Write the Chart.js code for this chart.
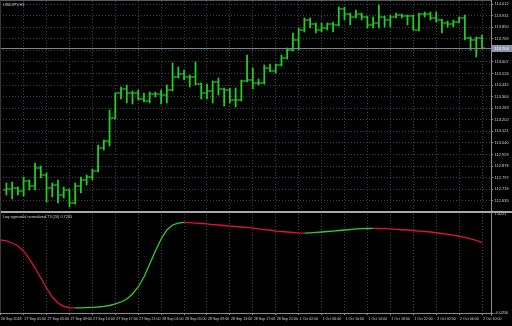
<!DOCTYPE html>
<html>
<head>
<meta charset="utf-8">
<script src="https://cdn.jsdelivr.net/npm/chart.js@4.4.0/dist/chart.umd.min.js"></script>
<style>
    html, body { margin: 0; padding: 0; background: #000; }
    #wrap { position: relative; width: 512px; height: 326px; background: #000; overflow: hidden; }
    #wrap canvas { position: absolute; left: 0; }
    #mainChart { top: 0; }
    #indChart { top: 212px; }
</style>
</head>
<body>
<div id="wrap">
    <canvas id="mainChart" width="512" height="212"></canvas>
    <canvas id="indChart" width="512" height="114"></canvas>
</div>
<script>
// USDJPY H1 bars, 26 Sep 22:00 .. 2 Oct 10:00 (bar index 0..83)
const opens = [
    112.710,112.717,112.724,112.703,112.773,112.738,112.864,112.815,112.724,112.745,
    112.675,112.710,112.619,112.738,112.780,112.801,112.843,113.004,113.053,113.214,
    113.389,113.417,113.389,113.389,113.347,113.333,113.382,113.382,113.375,113.410,
    113.501,113.522,113.501,113.501,113.452,113.389,113.403,113.466,113.417,113.410,
    113.340,113.340,113.473,113.480,113.459,113.459,113.564,113.543,113.585,113.634,
    113.690,113.760,113.830,113.900,113.872,113.830,113.844,113.872,113.865,113.977,
    113.942,113.921,113.942,113.921,113.865,113.879,113.921,113.900,113.921,113.935,
    113.928,113.928,113.830,113.942,113.942,113.914,113.900,113.879,113.872,113.886,
    113.914,113.774,113.760,113.774
];
const highs = [
    112.759,112.766,112.731,112.801,112.780,112.899,112.878,112.829,112.759,112.780,
    112.731,112.717,112.759,112.801,112.815,112.857,113.025,113.060,113.270,113.389,
    113.431,113.445,113.403,113.410,113.389,113.396,113.396,113.410,113.445,113.599,
    113.571,113.550,113.515,113.606,113.459,113.452,113.473,113.494,113.424,113.424,
    113.424,113.480,113.655,113.564,113.487,113.585,113.592,113.592,113.655,113.704,
    113.809,113.844,113.914,113.914,113.879,113.879,113.879,113.886,113.991,113.991,
    113.949,113.970,113.949,113.928,113.921,114.005,113.928,113.935,113.949,113.942,
    113.935,113.935,113.949,113.956,113.956,113.956,113.907,113.893,113.900,113.921,
    113.935,113.781,113.781,113.795
];
const lows = [
    112.675,112.647,112.675,112.668,112.710,112.710,112.794,112.626,112.661,112.619,
    112.654,112.591,112.612,112.689,112.745,112.780,112.836,112.990,113.018,113.207,
    113.347,113.319,113.312,113.340,113.326,113.319,113.361,113.312,113.319,113.403,
    113.494,113.480,113.431,113.445,113.347,113.347,113.319,113.375,113.298,113.319,
    113.291,113.333,113.466,113.417,113.445,113.452,113.536,113.529,113.578,113.627,
    113.683,113.690,113.816,113.844,113.809,113.816,113.830,113.816,113.858,113.900,
    113.865,113.914,113.900,113.844,113.844,113.844,113.851,113.851,113.914,113.914,
    113.865,113.830,113.823,113.921,113.900,113.886,113.809,113.851,113.851,113.879,
    113.760,113.690,113.641,113.697
];
const closes = [
    112.717,112.724,112.703,112.773,112.738,112.864,112.815,112.724,112.745,112.675,
    112.710,112.619,112.738,112.780,112.801,112.843,113.004,113.053,113.214,113.389,
    113.417,113.389,113.389,113.347,113.333,113.382,113.382,113.375,113.410,113.501,
    113.522,113.501,113.501,113.452,113.389,113.403,113.466,113.417,113.410,113.340,
    113.340,113.473,113.480,113.459,113.459,113.564,113.543,113.585,113.634,113.690,
    113.760,113.830,113.900,113.872,113.830,113.844,113.872,113.865,113.977,113.942,
    113.921,113.942,113.921,113.865,113.879,113.921,113.900,113.921,113.935,113.928,
    113.928,113.830,113.942,113.942,113.914,113.900,113.879,113.872,113.886,113.914,
    113.774,113.760,113.774,113.704
];
const bid = 113.704;

// indicator, first value belongs to the bar before index 0
const sig = [
    0.748,
    0.738,0.716,0.685,0.632,0.547,0.451,0.345,0.239,0.144,0.080,
    0.045,0.030,0.028,0.029,0.031,0.034,0.038,0.044,0.054,0.070,
    0.091,0.123,0.176,0.250,0.356,0.494,0.632,0.759,0.854,0.907,
    0.928,0.934,0.933,0.928,0.923,0.918,0.912,0.907,0.902,0.896,
    0.891,0.886,0.881,0.875,0.865,0.859,0.854,0.843,0.838,0.833,
    0.828,0.822,0.821,0.824,0.828,0.833,0.838,0.843,0.849,0.854,
    0.859,0.865,0.868,0.870,0.871,0.870,0.868,0.865,0.861,0.857,
    0.854,0.849,0.843,0.838,0.833,0.825,0.817,0.808,0.799,0.788,
    0.775,0.759,0.743,0.7205
];

const priceTicks = [114.012,113.931,113.850,113.769,113.688,113.607,113.526,113.445,113.364,
    113.283,113.202,113.121,113.040,112.959,112.878,112.797,112.716,112.635];
const timeTickIdx = [3,7,11,15,19,23,27,31,35,39,43,47,51,55,59,63,67,71,75,79,83];
const timeTickText = ['27 Sep 01:00','27 Sep 05:00','27 Sep 09:00','27 Sep 13:00','27 Sep 17:00',
    '27 Sep 21:00','28 Sep 01:00','28 Sep 05:00','28 Sep 09:00','28 Sep 13:00','28 Sep 17:00',
    '28 Sep 21:00','1 Oct 02:00','1 Oct 06:00','1 Oct 10:00','1 Oct 14:00','1 Oct 18:00',
    '1 Oct 22:00','2 Oct 02:00','2 Oct 06:00','2 Oct 10:00'];
const firstDateText = '26 Sep 2018';
const symbolTitle = 'USDJPY,H1';
const indTitle = 'Log sigmoidal normalized T3 (20) 0.7205';
const indMax = 1.0237, indMin = -0.0256;

const X_MIN = -1.12, X_MAX = 84.57;
const Y_MIN = 112.563, Y_MAX = 114.033;

const BAR_GREEN = '#22d022';
const UP = '#33cc33', DOWN = '#dc143c';
const GRID = '#3a424b';
const AXIS = '#8c8c8c';
const TXT = '#d2d2d2';
const FONT = { family: 'Liberation Sans', size: 4 };
const TIME_FONT = { family: 'Liberation Sans', size: 3.6 };

const noPad = s => { s.paddingTop = 0; s.paddingBottom = 0; s.paddingLeft = 0; s.paddingRight = 0; };

function hline(ctx, x1, x2, y, color) {
    ctx.strokeStyle = color; ctx.lineWidth = 1;
    ctx.beginPath(); ctx.moveTo(x1, y); ctx.lineTo(x2, y); ctx.stroke();
}
function vline(ctx, x, y1, y2, color) {
    ctx.strokeStyle = color; ctx.lineWidth = 1;
    ctx.beginPath(); ctx.moveTo(x, y1); ctx.lineTo(x, y2); ctx.stroke();
}

const mainDecor = {
    id: 'mainDecor',
    afterDraw(chart) {
        const { ctx, chartArea: a, width, height } = chart;
        const y = Math.round(chart.scales.y.getPixelForValue(bid));
        ctx.save();
        hline(ctx, a.left, a.right, y + 0.5, '#7d8794');
        vline(ctx, Math.round(a.right) + 0.5, 0, height, AXIS);
        hline(ctx, 0, a.right, 0.5, '#5a5a5a');
        hline(ctx, 0, width, height - 0.5, '#a8a8a8');
        vline(ctx, 0.5, 0, height, '#3a3a3a');
        // bid label
        ctx.fillStyle = '#8a97a8';
        ctx.fillRect(a.right + 1, y - 3, width - a.right - 1, 7);
        ctx.fillStyle = '#ffffff';
        ctx.font = '4px "Liberation Sans"';
        ctx.textBaseline = 'middle';
        ctx.fillText(bid.toFixed(3), a.right + 3.5, y + 0.5);
        ctx.fillStyle = TXT;
        ctx.textBaseline = 'top';
        ctx.fillText(symbolTitle, 3, 3);
        ctx.restore();
    }
};

const indDecor = {
    id: 'indDecor',
    afterDraw(chart) {
        const { ctx, chartArea: a, width } = chart;
        ctx.save();
        hline(ctx, 0, width, 0.5, '#a8a8a8');
        vline(ctx, Math.round(a.right) + 0.5, 0, a.bottom + 3, AXIS);
        hline(ctx, 0, a.right + 3, Math.round(a.bottom) + 0.5, AXIS);
        vline(ctx, 0.5, 0, a.bottom, '#3a3a3a');
        ctx.fillStyle = TXT;
        ctx.font = '3.8px "Liberation Sans"';
        ctx.textBaseline = 'top';
        ctx.fillText(indTitle, 3, 3);
        ctx.restore();
    }
};

new Chart(document.getElementById('mainChart'), {
    type: 'bar',
    data: {
        datasets: [
            {
                type: 'bar',
                data: highs.map((h, i) => ({ x: i, y: [lows[i], h] })),
                backgroundColor: BAR_GREEN,
                borderWidth: 0,
                barThickness: 1.1,
            },
            {
                type: 'scatter',
                data: opens.map((o, i) => ({ x: i - 0.3, y: o })),
                pointStyle: 'line', pointRadius: 1.5, borderWidth: 1, borderColor: BAR_GREEN,
            },
            {
                type: 'scatter',
                data: closes.map((c, i) => ({ x: i + 0.3, y: c })),
                pointStyle: 'line', pointRadius: 1.5, borderWidth: 1, borderColor: BAR_GREEN,
            },
        ]
    },
    options: {
        responsive: false,
        animation: false,
        events: [],
        layout: { autoPadding: false, padding: { top: 1, bottom: 1, left: 0, right: 0 } },
        plugins: { legend: { display: false }, tooltip: { enabled: false } },
        scales: {
            x: {
                type: 'linear', min: X_MIN, max: X_MAX, offset: false,
                grid: { offset: false, color: GRID, drawTicks: false },
                border: { display: false, dash: [1, 2] },
                ticks: { display: false },
                afterBuildTicks: s => { s.ticks = timeTickIdx.map(v => ({ value: v })); },
                afterFit: s => { s.height = 0; noPad(s); },
            },
            y: {
                position: 'right', min: Y_MIN, max: Y_MAX,
                grid: { color: GRID, tickLength: 2, tickColor: AXIS },
                border: { display: false, dash: [1, 2] },
                ticks: {
                    font: FONT, color: TXT, padding: 1.5, autoSkip: false,
                    callback: v => Math.abs(v - bid) < 0.03 ? '' : v.toFixed(3),
                },
                afterBuildTicks: s => { s.ticks = priceTicks.map(v => ({ value: v })); },
                afterFit: s => { s.width = 21; noPad(s); },
            }
        }
    },
    plugins: [mainDecor]
});

new Chart(document.getElementById('indChart'), {
    type: 'line',
    data: {
        datasets: [{
            data: sig.map((v, k) => ({ x: k - 1, y: v })),
            borderColor: UP,
            borderWidth: 1.3,
            pointRadius: 0,
            segment: { borderColor: c => c.p1.parsed.y < c.p0.parsed.y ? DOWN : UP },
        }]
    },
    options: {
        responsive: false,
        animation: false,
        events: [],
        layout: { autoPadding: false, padding: { top: 2, bottom: 0, left: 0, right: 0 } },
        plugins: { legend: { display: false }, tooltip: { enabled: false } },
        scales: {
            x: {
                type: 'linear', min: X_MIN, max: X_MAX, offset: false,
                grid: { color: GRID, tickLength: 2, tickColor: AXIS },
                border: { display: false, dash: [1, 2] },
                ticks: {
                    font: TIME_FONT, color: TXT, padding: 2, autoSkip: false,
                    maxRotation: 0, minRotation: 0, align: 'start', labelOffset: 1,
                    callback: v => v === X_MIN ? firstDateText : timeTickText[timeTickIdx.indexOf(v)],
                },
                afterBuildTicks: s => {
                    s.ticks = [{ value: X_MIN }, ...timeTickIdx.map(v => ({ value: v }))];
                },
                afterFit: s => { s.height = 13; noPad(s); },
            },
            y: {
                position: 'right', min: indMin, max: indMax,
                grid: { display: false, tickLength: 2 },
                border: { display: false },
                ticks: {
                    font: FONT, color: TXT, padding: 1.5, autoSkip: false,
                    callback: v => v.toFixed(4),
                },
                afterBuildTicks: s => { s.ticks = [{ value: indMin }, { value: indMax }]; },
                afterFit: s => { s.width = 21; noPad(s); },
            }
        }
    },
    plugins: [indDecor]
});
</script>
</body>
</html>
